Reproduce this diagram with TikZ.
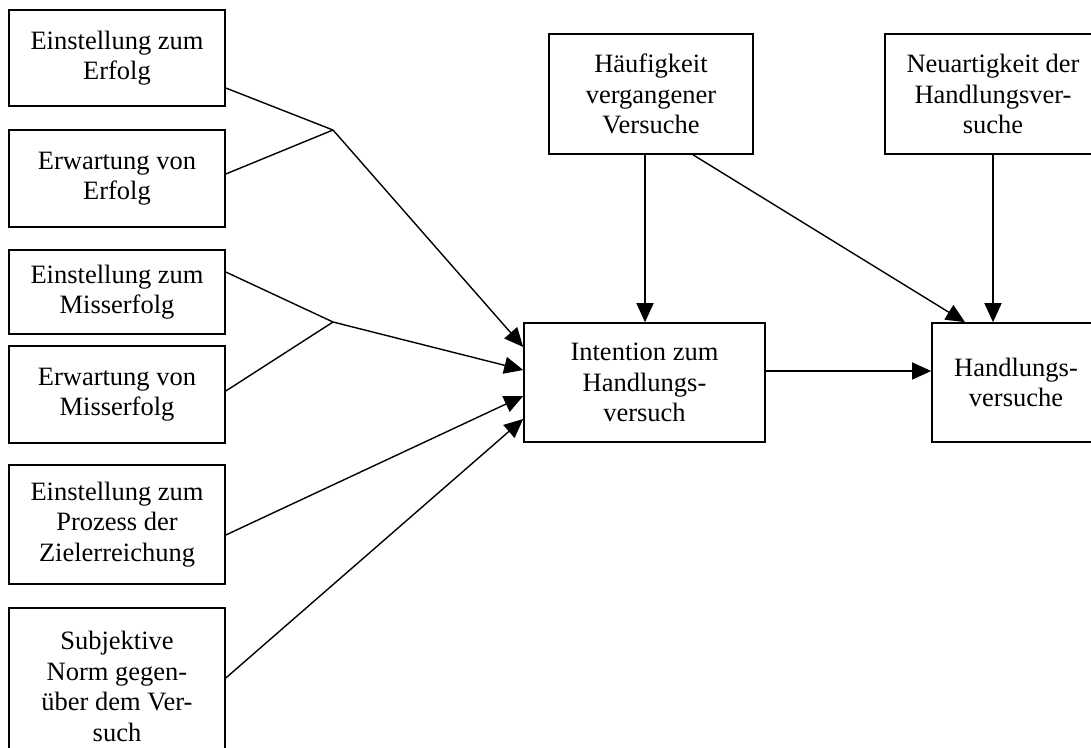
\documentclass[tikz,border=0pt]{standalone}
\usepackage{fontspec}
\setmainfont{Liberation Serif}
\usetikzlibrary{arrows.meta,calc}
\begin{document}
\begin{tikzpicture}[x=1pt,y=-1pt,
  box/.style={draw,line width=1.6pt,inner sep=0pt,align=center,
    font=\fontsize{26.5}{30.5}\selectfont},
  conn/.style={line width=1.4pt},
  arr/.style={line width=1.4pt,-{Triangle[length=19pt,width=17pt]}}]
\useasboundingbox (0,0) rectangle (1091,747);
\clip (0,0) rectangle (1091,747);
\node[box,minimum width=216pt,minimum height=96pt] (b1) at (117,58) {Einstellung zum\\Erfolg};
\node[box,minimum width=216pt,minimum height=97pt] (b2) at (117,178.5) {Erwartung von\\Erfolg};
\node[box,minimum width=216pt,minimum height=84pt] (b3) at (117,292) {Einstellung zum\\Misserfolg};
\node[box,minimum width=216pt,minimum height=97pt] (b4) at (117,394.5) {Erwartung von\\Misserfolg};
\node[box,minimum width=216pt,minimum height=119pt] (b5) at (117,524.5) {Einstellung zum\\Prozess der\\Zielerreichung};
\node[box,minimum width=216pt,minimum height=157pt] (b6) at (117,686.5) {Subjektive\\Norm gegen-\\über dem Ver-\\such};
\node[box,minimum width=204pt,minimum height=120pt] (hv) at (651,94) {Häufigkeit\\vergangener\\Versuche};
\node[box,minimum width=216pt,minimum height=120pt] (nh) at (993,94) {Neuartigkeit der\\Handlungsver-\\suche};
\node[box,minimum width=241pt,minimum height=119pt] (iz) at (644.5,382.5) {Intention zum\\Handlungs-\\versuch};
\node[box,minimum width=168pt,minimum height=119pt] (hs) at (1016,382.5) {Handlungs-\\versuche};
\coordinate (j1) at (333,130);
\coordinate (j2) at (333,322);
\draw[conn] ($(b1.east)+(0,30)$) -- (j1);
\draw[conn] ($(b2.east)+(0,-4.5)$) -- (j1);
\draw[conn] ($(b3.east)+(0,-20)$) -- (j2);
\draw[conn] ($(b4.east)+(0,-3.5)$) -- (j2);
\draw[arr] (j1) -- ($(iz.west)+(0,-35.5)$);
\draw[arr] (j2) -- ($(iz.west)+(0,-12.5)$);
\draw[arr] ($(b5.east)+(0,10.5)$) -- ($(iz.west)+(0,13.5)$);
\draw[arr] ($(b6.east)+(0,-8.5)$) -- ($(iz.west)+(0,36.5)$);
\draw[arr] ($(hv.south)+(-6,0)$) -- ($(iz.north)+(0.5,0)$);
\draw[arr] ($(hv.south)+(42,0)$) -- ($(hs.north)+(-51,0)$);
\draw[arr] (nh.south) -- ($(hs.north)+(-23,0)$);
\draw[arr] ($(iz.east)+(0,-11.5)$) -- ($(hs.west)+(0,-11.5)$);
\end{tikzpicture}
\end{document}
